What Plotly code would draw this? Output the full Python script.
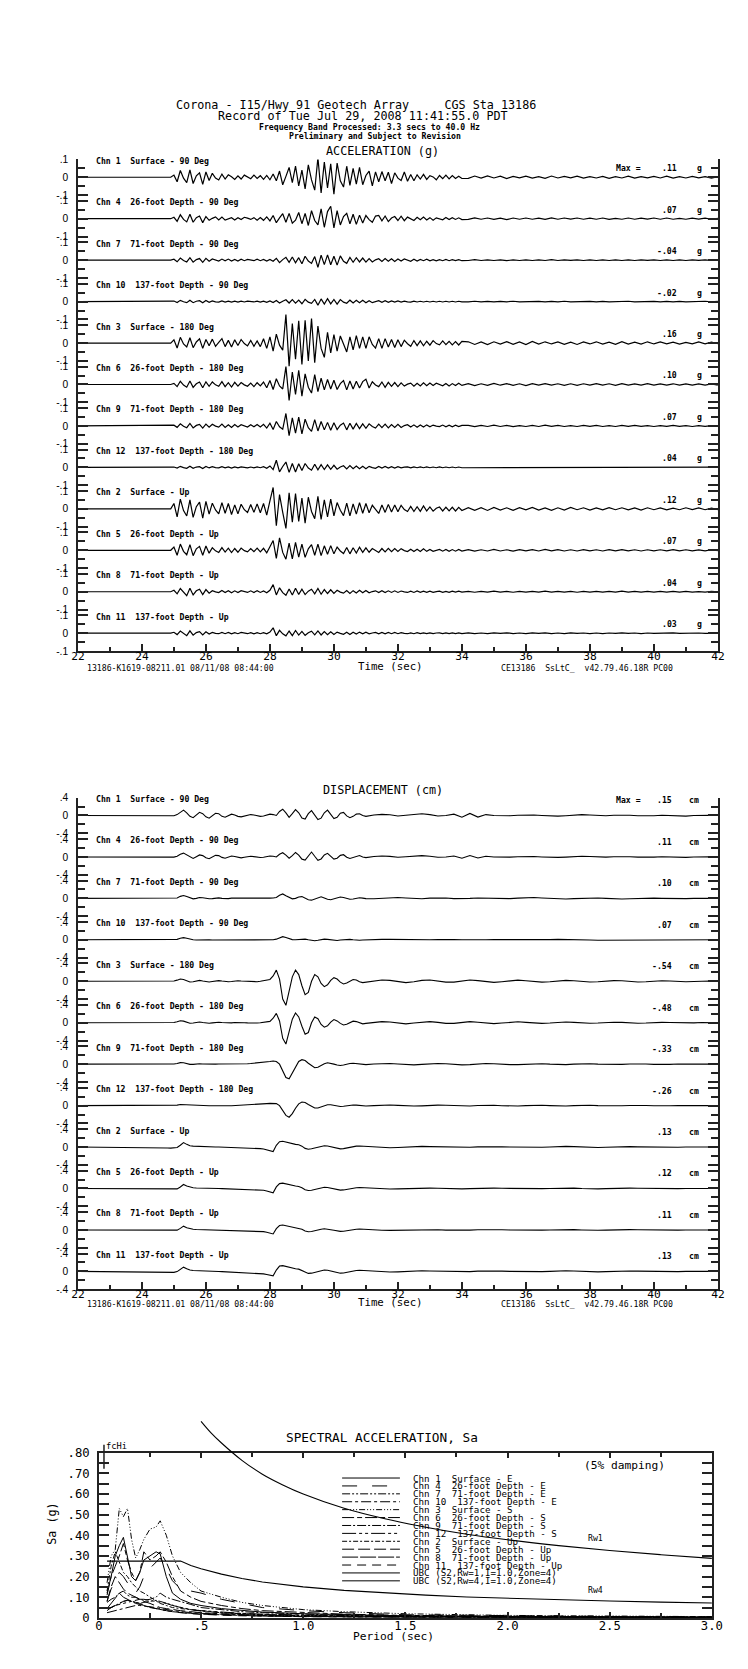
import plotly.graph_objects as go

W, H = 748, 1669
MONO = "DejaVu Sans Mono"
SANS = "Liberation Sans"

# The page is photographed with the browser's default 8px body margin and then
# fitted to 748x1669; positions below are in the target picture's pixels and are
# mapped back to paper fractions accordingly.
PAGE_PAD = 8
SX = W / (W + 2 * PAGE_PAD)
SY = H / (H + 2 * PAGE_PAD)


def fx(px):
    return (px / SX - PAGE_PAD) / W


def fy(py):
    return 1 - (py / SY - PAGE_PAD) / H


# ---------------- text / categories ----------------
ROW_LABELS = [
    "Chn 1  Surface - 90 Deg", "Chn 4  26-foot Depth - 90 Deg",
    "Chn 7  71-foot Depth - 90 Deg", "Chn 10  137-foot Depth - 90 Deg",
    "Chn 3  Surface - 180 Deg", "Chn 6  26-foot Depth - 180 Deg",
    "Chn 9  71-foot Depth - 180 Deg", "Chn 12  137-foot Depth - 180 Deg",
    "Chn 2  Surface - Up", "Chn 5  26-foot Depth - Up",
    "Chn 8  71-foot Depth - Up", "Chn 11  137-foot Depth - Up",
]
ACC_MAX = [".11", ".07", "-.04", "-.02", ".16", ".10", ".07", ".04", ".12", ".07", ".04", ".03"]
DISP_MAX = [".15", ".11", ".10", ".07", "-.54", "-.48", "-.33", "-.26", ".13", ".12", ".11", ".13"]

# ---------------- acceleration (milli-g) ----------------
ACC_TIME = [22.0] + [round(24.9 + 0.1 * i, 2) for i in range(92)] + [round(34.2 + 0.2 * i, 2) for i in range(40)]

ACC_CH1 = [0, 0,
           12, -25, 38, -5, -30, 42, -35, 8, 25, -40,
           30, -18, 22, -4, -15, 18, -10, 14, 3, -12,
           8, -10, 12, 2, -8, 12, -6, 9, -12, 10,
           -14, 18, -20, 35, -42, 5, 55, -30, 62, -48,
           40, -65, 70, -15, -72, 110, -88, 85, -60, 75,
           -95, 80, -20, -55, 62, -45, 50, -38, 55, -42,
           10, 35, -48, 30, -25, 32, -20, 28, -35, 25,
           -5, -18, 30, -22, 15, -20, 14, -10, 16, -12,
           9, 2, -14, 10, -8, 12, -9, 10, -7, 6,
           -7,
           -6, 7, -5, 8, -4, 6, -7, 5, -3, 6, -5, 4, -6, 7, -4, 5, -3, 6, -5, 4,
           -4, 5, -6, 3, -4, 6, -5, 4, -3, 5, -4, 6, -5, 3, -4, 5, -3, 4, -5, 3]
ACC_CH4 = [0, 0,
           8, -15, 22, -4, -18, 25, -20, 6, 15, -22,
           12, -9, 2, 10, -7, 9, -8, 1, 6, -7,
           6, -5, 8, 3, -4, 6, -8, 7, -9, 10,
           -12, 18, -22, 5, 28, -20, 30, -25, -8, 35,
           -28, 30, -38, 45, -10, -35, 55, -48, 40, 70,
           -52, 45, -35, 12, 30, -28, 25, -32, 20, -24,
           18, -5, -20, 15, 18, -12, 15, -16, 4, 12,
           -10, 14, -11, 9, -2, -10, 8, -6, 9, -7,
           6, -8, 5, -1, -6, 7, -5, 6, -4, 5,
           -5,
           -4, 5, -3, 4, -4, 3, -5, 4, -3, 4, -3, 3, -4, 5, -3, 4, -2, 4, -3, 3,
           -3, 4, -4, 2, -3, 4, -3, 3, -2, 4, -3, 4, -3, 2, -3, 3, -2, 3, -3, 2]
ACC_CH7 = [0, 0,
           5, -9, 12, -2, -10, 14, -11, 3, 9, -12,
           10, -6, 7, -1, -5, 6, -4, 6, -5, 4,
           -5, 5, -3, 4, 1, -3, 5, -3, 4, -5,
           4, -6, 10, -14, 3, 16, -12, 18, -15, 14,
           -20, 22, -5, -18, 20, -40, 28, -25, 30, -26,
           22, -28, 24, -6, -18, 15, -12, 14, -10, 12,
           -11, 9, -10, 2, 8, -7, 9, -6, 8, -7,
           6, -5, 7, -1, -6, 5, -5, 4, -3, 5,
           -4, 3, -4, 3, -3, 4, -3, 3, -2, 3,
           -3,
           -2, 3, -2, 2, -2, 2, -3, 2, -2, 2, -2, 2, -2, 3, -2, 2, -1, 2, -2, 2,
           -2, 2, -2, 1, -2, 2, -2, 2, -1, 2, -2, 2, -2, 1, -2, 2, -1, 2, -2, 1]
ACC_CH10 = [0, 0,
            3, -5, 7, -1, -6, 8, -6, 2, 5, -7,
            6, -4, 4, -1, -3, 4, -3, 3, -3, 3,
            -3, 3, -2, 3, 1, -2, 3, -3, 3, -4,
            4, -5, 6, -8, 2, 10, -8, 11, -9, 8,
            -12, 13, -3, -10, 12, -20, 15, -14, 16, -13,
            12, -14, 11, -3, -9, 8, -7, 8, -6, 7,
            -6, 5, -6, 1, 5, -4, 5, -4, 4, -3,
            4, -3, 3, -1, -3, 3, -2, 2, -2, 2,
            -2, 2, -2, 2, -2, 2, -2, 2, -2, 2,
            -1,
            -1, 2, -1, 1, -2, 1, -1, 2, -1, 1, -1, 1, -2, 1, -1, 2, -1, 1, -1, 1,
            -2, 1, -1, 1, -1, 2, -1, 1, -1, 1, -1, 1, -2, 1, -1, 1, -1, 2, -1, 1]
ACC_CH3 = [0, 0,
           18, -28, 32, -5, -22, 30, -26, 6, 24, -30,
           20, -15, 22, -18, 4, 25, -20, 15, -22, 18,
           -14, 20, -3, -16, 14, -18, 12, -20, 24, -30,
           35, -45, 50, -12, -40, 160, -130, 110, -90, 125,
           -120, 127, -100, 137, -110, 95, -30, -80, 60, -55,
           48, -45, 40, -10, -50, 35, -38, 42, -30, 35,
           -30, 35, -8, -28, 25, -30, 25, -22, 20, -25,
           18, -20, 16, -4, -18, 14, -14, 12, -15, 10,
           -12, 14, -3, -10, 12, -9, 10, -10, 8, -11,
           9,
           7, -8, 6, -9, 7, -6, 8, -7, 6, -8, 9, -6, 7, -5, 6, -7, 5, -8, 6, -5,
           7, -6, 5, -7, 8, -6, 5, -6, 7, -5, 6, -4, 5, -6, 4, -5, 6, -4, 5, -4]
ACC_CH6 = [0, 0,
           6, -12, 18, -3, -15, 20, -16, 4, 14, -18,
           15, -10, 14, -2, -10, 16, -12, 10, -14, 12,
           -9, 11, -2, -10, 8, -12, 10, -8, 14, -18,
           22, -28, 32, -8, -25, 100, -90, 70, -55, 80,
           -65, 60, -15, -48, 55, -40, 35, -30, 28, -25,
           24, -28, 5, 22, -30, 20, -25, 18, -20, 16,
           30, -20, 15, -3, -12, 14, -16, 12, -10, 11,
           -12, 9, -9, 2, 8, -10, 7, -8, 9, -7,
           8, -6, 7, -1, -7, 6, -8, 5, -6, 7,
           -5,
           5, -6, 4, -5, 6, -4, 5, -5, 4, -6, 5, -4, 5, -4, 4, -5, 4, -5, 4, -4,
           5, -4, 4, -5, 5, -4, 3, -4, 5, -3, 4, -3, 4, -4, 3, -3, 4, -3, 3, -3]
ACC_CH9 = [0, 0,
           4, -8, 12, -2, -10, 14, -11, 3, 9, -12,
           10, -7, 9, -1, -7, 10, -8, 7, -9, 8,
           -6, 7, -1, -6, 7, -5, 8, -6, 9, -12,
           15, -20, 25, -5, -18, 70, -55, 45, -40, 50,
           -45, 38, -10, -30, 35, -28, 25, -22, 20, -24,
           18, -20, 4, 16, -22, 15, -18, 14, -15, 12,
           -13, 12, -3, -12, 10, -9, 10, -11, 8, -8,
           9, -9, 2, 7, -6, 6, -7, 5, -6, 6,
           -5, 5, -1, -4, 5, -5, 4, -5, 4, -4,
           3,
           3, -4, 3, -3, 4, -3, 3, -4, 2, -3, 3, -3, 4, -2, 3, -3, 2, -3, 3, -2,
           3, -3, 2, -3, 3, -2, 3, -2, 2, -3, 2, -2, 3, -2, 2, -3, 2, -2, 2, -2]
ACC_CH12 = [0, 0,
            2, -4, 6, -1, -5, 7, -5, 2, 4, -6,
            5, -3, 4, -1, -3, 4, -3, 3, -4, 3,
            -3, 3, -1, -3, 2, -3, 3, -2, 4, -5,
            8, -12, 40, -25, 5, 30, -28, 22, -26, 20,
            -18, 22, -4, -16, 18, -14, 15, -12, 14, -11,
            12, -10, 2, 9, -8, 10, -7, 8, -7, 6,
            -7, 6, -1, -5, 5, -4, 5, -4, 4, -4,
            4, -3, 1, 3, -3, 3, -2, 3, -2, 3,
            -2, 2, -2, 3, -2, 2, -2, 2, -2, 2,
            -2,
            -2, 2, -1, 2, -2, 1, -2, 2, -1, 2, -1, 2, -2, 1, -1, 2, -2, 1, -1, 2,
            -1, 1, -2, 1, -1, 2, -1, 1, -1, 2, -1, 1, -1, 2, -1, 1, -1, 1, -2, 1]
ACC_CH2 = [0, 0,
           30, -45, 55, -10, -40, 50, -48, 12, 38, -52,
           42, -30, 32, -6, -28, 35, -25, 30, -32, 22,
           -28, 26, -5, -20, 24, -20, 28, -22, 30, -35,
           45, 120, -95, 80, -20, -110, 90, -75, 85, -70,
           60, -80, 65, -15, -55, 70, -60, 50, -45, 55,
           -40, 35, -8, -38, 32, -40, 28, -30, 35, -25,
           30, -22, 20, -5, -26, 22, -20, 25, -18, 22,
           -16, 20, -4, -15, 14, -15, 12, -14, 16, -12,
           11, -13, 3, 10, -12, 9, -11, 9, -12, 8,
           -9,
           7, -8, 6, -9, 8, -7, 6, -8, 7, -6, 8, -7, 5, -8, 6, -7, 8, -5, 6, -7,
           5, -6, 7, -5, 6, -6, 5, -7, 6, -5, 5, -6, 4, -5, 6, -4, 5, -5, 4, -4]
ACC_CH5 = [0, 0,
           18, -28, 35, -6, -25, 32, -30, 8, 22, -28,
           24, -16, 14, -3, -12, 15, -10, 12, -13, 10,
           -11, 12, -2, -9, 10, -8, 12, -9, 11, -14,
           20, 55, -45, 70, -12, -50, 40, -48, 45, -38,
           35, -40, 8, 32, -28, 35, -30, 25, -22, 26,
           -20, 18, -4, -18, 16, -20, 14, -15, 17, -12,
           14, -11, 10, -2, -12, 10, -9, 11, -8, 10,
           -7, 9, -2, -7, 6, -7, 6, -7, 8, -6,
           5, -6, 1, 5, -5, 5, -6, 4, -5, 5,
           -4,
           4, -5, 3, -4, 5, -4, 3, -5, 4, -3, 4, -4, 5, -3, 4, -4, 3, -4, 4, -3,
           3, -4, 4, -3, 4, -3, 3, -4, 3, -3, 3, -3, 4, -3, 3, -3, 2, -3, 3, -2]
ACC_CH8 = [0, 0,
           8, -12, 18, -4, -22, 20, -18, 5, 14, -16,
           12, -8, 6, -1, -5, 7, -5, 6, -6, 5,
           -5, 6, -1, -4, 5, -4, 6, -4, 4, -6,
           8, 40, -18, 22, -5, -20, 15, -18, 20, -15,
           14, -16, 3, 14, -12, 18, -14, 12, -10, 11,
           -9, 8, -2, -8, 7, -9, 6, -7, 8, -6,
           7, -6, 1, 5, -5, 6, -4, 5, -4, 5,
           -4, 4, -1, -4, 3, -4, 4, -3, 3, -3,
           3, -3, 1, 3, -3, 2, -3, 3, -2, 3,
           -2,
           2, -3, 2, -2, 3, -2, 2, -3, 2, -2, 2, -2, 3, -2, 2, -2, 2, -3, 2, -2,
           2, -2, 2, -2, 3, -2, 2, -2, 2, -2, 2, -2, 2, -2, 2, -2, 1, -2, 2, -1]
ACC_CH11 = [0, 0,
            5, -8, 12, -3, -14, 13, -11, 3, 9, -10,
            8, -5, 4, -1, -3, 4, -3, 4, -4, 3,
            -3, 4, -1, -3, 3, -4, 3, -3, 3, -4,
            6, 30, -14, 16, -4, -15, 12, -14, 15, -11,
            10, -12, 2, 11, -9, 13, -10, 9, -8, 8,
            -7, 6, -1, -6, 5, -7, 5, -5, 6, -4,
            5, -4, 1, 4, -4, 4, -4, 4, -3, 4,
            -3, 3, -1, -3, 2, -3, 3, -2, 2, -2,
            2, -2, 1, 2, -2, 2, -2, 2, -2, 2,
            -2,
            2, -2, 1, -2, 2, -1, 2, -2, 1, -2, 2, -1, 2, -2, 1, -2, 2, -1, 1, -2,
            1, -2, 1, -1, 2, -1, 1, -2, 1, -1, 1, -1, 2, -1, 1, -1, 1, -1, 1, -1]

ACC_ROWS = [ACC_CH1, ACC_CH4, ACC_CH7, ACC_CH10, ACC_CH3, ACC_CH6,
            ACC_CH9, ACC_CH12, ACC_CH2, ACC_CH5, ACC_CH8, ACC_CH11]

# ---------------- displacement (1/1000 cm) ----------------
DISP_TIME = [22.0] + [round(24.0 + 0.1 * i, 2) for i in range(71)] + [round(31.25 + 0.25 * i, 2) for i in range(44)]

DISP_CH1 = [0,
            0, 0, -2, -3, -5, -8, -10, -12, -12, -10,
            -5, 20, 80, 120, 60, -20, -50, 10, 70, 40,
            -30, -60, -10, 50, 40, -20, -40, 0, 30, 10,
            -20, -30, -10, 10, 20, 10, -10, -20, -10, 10,
            30, 20, 0, 90, 140, 60, -40, 40, 130, 60,
            -60, -80, 40, 110, 20, -90, -60, 60, 120, 30,
            -70, -40, 50, 70, -10, -50, -20, 30, 40, 0,
            -20,
            10, 25, 15, -10, 5, 25, 40, 20, -10, 0, 30, -40, 45, -35, 20, 0, -10, -5, 5, 15,
            10, 0, -10, -15, -5, 10, 20, 10, 0, -5, 5, 10, 5, -5, -10, -5, 5, 0, -20, -15,
            0, 10, 5, 0]
DISP_CH4 = [0,
            0, 0, -1, -2, -4, -6, -8, -9, -9, -8,
            -4, 15, 60, 85, 45, -10, -35, 5, 45, 30,
            -20, -40, -5, 35, 30, -10, -28, 0, 20, 8,
            -12, -20, -8, 6, 14, 6, -6, -14, -8, 6,
            20, 15, 0, 60, 95, 40, -30, 30, 100, 40,
            -50, -70, 30, 110, 15, -75, -45, 45, 80, 20,
            -50, -30, 35, 50, -5, -35, -15, 20, 30, 0,
            -15,
            8, 20, 12, -8, 4, 18, 30, 15, -8, 0, 22, -30, 32, -25, 15, 0, -8, -4, 4, 10,
            8, 0, -8, -10, -4, 8, 15, 8, 0, -4, 4, 8, 4, -4, -8, -4, 4, 0, -15, -10,
            0, 8, 4, 0]
DISP_CH7 = [0,
            0, 0, -1, -2, -3, -4, -5, -6, -6, -5,
            -2, 10, 45, 65, 40, 10, -10, 0, 20, 15,
            0, -10, -5, 10, 12, 0, -8, -5, 5, 5,
            -2, -8, -10, -6, 0, 4, 0, -6, -8, -4,
            5, 10, 20, 70, 100, 60, 20, -10, 0, 30,
            40, 10, -30, -40, -10, 20, 35, 10, -20, -30,
            -10, 15, 30, 20, -5, -20, -15, 5, 15, 5,
            -5,
            -10, 0, 15, 20, 10, -5, -10, 5, 15, 10, -5, -10, 0, 10, 5, -5, -10, -5, 5, 15,
            20, 10, 0, -10, -15, -5, 5, 10, 10, 0, -10, -15, -10, 0, 10, 5, 0, -5, -10, -5,
            0, 5, 5, 0]
DISP_CH10 = [0,
             0, 0, -1, -1, -2, -3, -4, -4, -4, -3,
             0, 10, 35, 50, 35, 15, 0, -5, 0, 5,
             5, 0, -5, -5, 0, 5, 5, 0, -5, -5,
             -5, -8, -10, -10, -8, -5, -5, -8, -10, -8,
             -5, 0, 15, 50, 70, 50, 25, 5, 0, 10,
             20, 15, 0, -15, -20, -10, 5, 15, 10, 0,
             -10, -15, -5, 5, 10, 10, 0, -10, -10, -5,
             0,
             5, 10, 10, 5, 0, -5, -5, 0, 5, 10, 5, 0, -5, -5, 0, 5, 5, 0, -5, -10,
             -5, 0, 5, 10, 10, 5, 0, -5, -10, -10, -5, 0, 5, 5, 0, -5, -5, 0, 5, 5,
             0, -5, 0, 0]
DISP_CH3 = [0,
            0, 0, -2, -3, -5, -6, -8, -8, -6, -3,
            5, 25, 50, 40, 10, -15, -10, 10, 20, 5,
            -10, -15, -5, 10, 15, 5, -5, -10, -5, 5,
            10, 5, 0, -5, -10, -15, -10, 0, 10, 20,
            40, 120, 250, 50, -400, -540, -250, 100, 250, 150,
            -100, -300, -250, 0, 150, 100, -50, -120, -80, 20,
            80, 50, -20, -60, -40, 10, 40, 30, -10, -30,
            -20,
            10, 30, 20, -10, -30, -10, 20, 30, 10, -20, -20, 10, 30, 15, -10, -25, -10, 15, 25, 10,
            -10, -20, -10, 10, 20, 10, -5, -15, -10, 5, 15, 10, -5, -15, -10, 5, 10, 5, -5, -10,
            -5, 5, 5, 0]
DISP_CH6 = [0,
            0, 0, -2, -3, -4, -5, -7, -7, -5, -3,
            4, 20, 45, 35, 8, -12, -8, 8, 15, 4,
            -8, -12, -4, 8, 12, 4, -4, -8, -4, 4,
            8, 4, 0, -4, -8, -12, -8, 0, 8, 15,
            30, 100, 210, 40, -350, -480, -230, 80, 220, 130,
            -80, -260, -220, 0, 130, 90, -40, -100, -70, 15,
            70, 40, -15, -50, -35, 8, 35, 25, -8, -25,
            -15,
            8, 25, 15, -8, -25, -8, 15, 25, 8, -15, -15, 8, 25, 12, -8, -20, -8, 12, 20, 8,
            -8, -15, -8, 8, 15, 8, -4, -12, -8, 4, 12, 8, -4, -12, -8, 4, 8, 4, -4, -8,
            -4, 4, 4, 0]
DISP_CH9 = [0,
            0, 0, -1, -2, -3, -4, -5, -5, -4, -2,
            3, 15, 35, 30, 10, -5, -5, 5, 10, 5,
            0, -5, -5, 0, 5, 5, 0, -5, -5, 0,
            5, 5, 10, 10, 15, 20, 25, 30, 40, 50,
            60, 70, 60, 0, -150, -300, -330, -200, -50, 60,
            100, 80, 20, -40, -80, -70, -30, 10, 30, 20,
            0, -20, -30, -20, 0, 15, 20, 10, -5, -15,
            -10,
            5, 15, 15, 5, -10, -15, -5, 10, 15, 10, -5, -15, -10, 5, 15, 10, -5, -10, -10, 0,
            10, 10, 0, -10, -10, 0, 10, 10, 0, -5, -10, -5, 5, 10, 5, -5, -10, -5, 5, 5,
            0, -5, 0, 0]
DISP_CH12 = [0,
             0, 0, -1, -1, -2, -3, -4, -4, -3, -2,
             2, 10, 25, 22, 10, 0, -3, 0, 5, 3,
             0, -3, -3, 0, 3, 3, 0, -3, -3, 0,
             3, 5, 8, 10, 15, 20, 25, 30, 38, 45,
             50, 55, 45, 0, -110, -220, -260, -180, -60, 40,
             80, 70, 25, -20, -55, -55, -30, 0, 20, 20,
             5, -10, -20, -15, 0, 10, 15, 10, 0, -10,
             -8,
             0, 10, 12, 5, -5, -10, -5, 5, 10, 8, -2, -10, -8, 2, 10, 8, -2, -8, -8, 0,
             8, 8, 0, -8, -8, 0, 8, 8, 0, -4, -8, -4, 4, 8, 4, -4, -8, -4, 4, 4,
             0, -4, 0, 0]
DISP_CH2 = [0,
            -5, -8, -10, -12, -14, -16, -18, -20, -22, -25,
            -25, -10, 40, 100, 60, 30, 20, 15, 10, 10,
            8, 5, 5, 2, 0, -2, -5, -5, -8, -10,
            -12, -15, -18, -20, -25, -28, -30, -35, -45, -60,
            -80, -100, 40, 120, 130, 110, 90, 70, 60, 50,
            20, -30, -50, -40, -20, 0, 20, 30, 25, 10,
            -10, -30, -40, -35, -20, 0, 10, 20, 25, 20,
            10,
            0, -10, -15, -10, 0, 10, 15, 10, 5, -5, -10, -10, -5, 5, 10, 10, 5, 0, -5, -10,
            -10, -5, 0, 10, 15, 10, 0, -10, -10, -5, 5, 10, 10, 5, 0, -5, -10, -10, -5, 0,
            5, 5, 0, 0]
DISP_CH5 = [0,
            -4, -6, -8, -10, -12, -14, -16, -18, -20, -22,
            -22, -8, 35, 90, 55, 28, 18, 12, 8, 8,
            6, 4, 4, 2, 0, -2, -4, -5, -7, -9,
            -10, -13, -16, -18, -22, -25, -28, -32, -40, -55,
            -75, -95, 35, 110, 120, 100, 80, 65, 55, 45,
            18, -28, -45, -38, -18, 0, 18, 28, 22, 8,
            -8, -28, -36, -32, -18, 0, 8, 18, 22, 18,
            8,
            0, -8, -12, -8, 0, 8, 12, 8, 4, -4, -8, -8, -4, 4, 8, 8, 4, 0, -4, -8,
            -8, -4, 0, 8, 12, 8, 0, -8, -8, -4, 4, 8, 8, 4, 0, -4, -8, -8, -4, 0,
            4, 4, 0, 0]
DISP_CH8 = [0,
            -4, -6, -8, -10, -11, -13, -15, -17, -19, -20,
            -20, -5, 35, 85, 50, 25, 15, 10, 8, 6,
            5, 3, 2, 0, -2, -4, -5, -6, -8, -9,
            -10, -12, -15, -17, -20, -23, -26, -30, -38, -50,
            -70, -90, 30, 100, 110, 95, 75, 60, 50, 40,
            15, -25, -40, -35, -15, 0, 15, 25, 20, 5,
            -8, -25, -32, -28, -15, 0, 8, 15, 20, 15,
            5,
            0, -8, -10, -8, 0, 8, 10, 8, 4, -4, -8, -8, -4, 4, 8, 8, 4, 0, -4, -8,
            -8, -4, 0, 8, 10, 8, 0, -8, -8, -4, 4, 8, 8, 4, 0, -4, -8, -8, -4, 0,
            4, 4, 0, 0]
DISP_CH11 = [0,
             -4, -6, -8, -10, -12, -14, -16, -18, -20, -22,
             -22, -5, 45, 95, 60, 30, 20, 15, 10, 8,
             5, 3, 2, 0, -3, -5, -8, -10, -12, -15,
             -18, -20, -24, -28, -32, -36, -40, -45, -55, -70,
             -90, -100, 30, 120, 130, 110, 90, 75, 60, 50,
             20, -25, -45, -40, -20, 0, 20, 30, 25, 10,
             -10, -30, -40, -35, -20, 0, 10, 20, 25, 20,
             10,
             0, -10, -15, -10, 0, 10, 15, 10, 5, -5, -10, -10, -5, 5, 10, 10, 5, 0, -5, -10,
             -10, -5, 0, 10, 15, 10, 0, -10, -10, -5, 5, 10, 10, 5, 0, -5, -10, -10, -5, 0,
             5, 5, 0, 0]

DISP_ROWS = [DISP_CH1, DISP_CH4, DISP_CH7, DISP_CH10, DISP_CH3, DISP_CH6,
             DISP_CH9, DISP_CH12, DISP_CH2, DISP_CH5, DISP_CH8, DISP_CH11]

# ---------------- spectral acceleration (g) ----------------
SA_PERIOD = [0.04, 0.06, 0.08, 0.1, 0.12, 0.14, 0.16, 0.18, 0.2, 0.22, 0.25, 0.28, 0.3, 0.33,
             0.36, 0.4, 0.45, 0.5, 0.6, 0.7, 0.8, 1.0, 1.2, 1.5, 2.0, 2.5, 3.0]
SA_CH1 = [0.12, 0.2, 0.3, 0.35, 0.39, 0.3, 0.2, 0.18, 0.22, 0.28, 0.3, 0.32, 0.31, 0.2,
          0.12, 0.09, 0.07, 0.06, 0.045, 0.035, 0.028, 0.02, 0.015, 0.01, 0.007, 0.005, 0.004]
SA_CH4 = [0.08, 0.14, 0.18, 0.22, 0.2, 0.17, 0.13, 0.12, 0.15, 0.2, 0.24, 0.27, 0.29, 0.24,
          0.18, 0.14, 0.13, 0.12, 0.09, 0.07, 0.05, 0.035, 0.025, 0.015, 0.01, 0.007, 0.005]
SA_CH7 = [0.045, 0.05, 0.06, 0.07, 0.08, 0.085, 0.08, 0.075, 0.07, 0.075, 0.08, 0.085, 0.08, 0.07,
          0.06, 0.05, 0.04, 0.033, 0.025, 0.02, 0.016, 0.012, 0.009, 0.006, 0.004, 0.003, 0.002]
SA_CH10 = [0.025, 0.03, 0.035, 0.04, 0.045, 0.05, 0.055, 0.06, 0.06, 0.058, 0.055, 0.05, 0.045, 0.04,
           0.035, 0.03, 0.026, 0.022, 0.018, 0.014, 0.011, 0.008, 0.006, 0.004, 0.003, 0.002, 0.002]
SA_CH3 = [0.17, 0.3, 0.33, 0.53, 0.49, 0.53, 0.38, 0.29, 0.33, 0.38, 0.43, 0.44, 0.47, 0.40,
          0.30, 0.22, 0.17, 0.13, 0.10, 0.075, 0.06, 0.04, 0.03, 0.02, 0.012, 0.008, 0.006]
SA_CH6 = [0.11, 0.2, 0.25, 0.3, 0.36, 0.28, 0.22, 0.18, 0.22, 0.32, 0.28, 0.3, 0.32, 0.27,
          0.2, 0.13, 0.1, 0.08, 0.06, 0.045, 0.035, 0.025, 0.018, 0.012, 0.008, 0.005, 0.004]
SA_CH9 = [0.075, 0.09, 0.1, 0.12, 0.13, 0.11, 0.1, 0.1, 0.09, 0.085, 0.09, 0.1, 0.12, 0.1,
          0.09, 0.08, 0.065, 0.05, 0.04, 0.03, 0.025, 0.018, 0.012, 0.008, 0.005, 0.004, 0.003]
SA_CH12 = [0.045, 0.05, 0.06, 0.065, 0.07, 0.075, 0.08, 0.085, 0.09, 0.09, 0.085, 0.08, 0.075, 0.07,
           0.06, 0.05, 0.04, 0.035, 0.028, 0.022, 0.018, 0.013, 0.01, 0.007, 0.005, 0.003, 0.002]
SA_CH2 = [0.13, 0.25, 0.32, 0.27, 0.22, 0.2, 0.17, 0.15, 0.13, 0.12, 0.1, 0.08, 0.07, 0.06,
          0.05, 0.045, 0.04, 0.035, 0.025, 0.02, 0.015, 0.01, 0.008, 0.005, 0.003, 0.002, 0.002]
SA_CH5 = [0.08, 0.15, 0.2, 0.17, 0.14, 0.12, 0.11, 0.1, 0.09, 0.08, 0.07, 0.06, 0.05, 0.045,
          0.04, 0.035, 0.03, 0.025, 0.02, 0.015, 0.012, 0.008, 0.006, 0.004, 0.003, 0.002, 0.001]
SA_CH8 = [0.045, 0.07, 0.1, 0.12, 0.1, 0.09, 0.08, 0.075, 0.07, 0.06, 0.05, 0.045, 0.04, 0.035,
          0.03, 0.025, 0.022, 0.018, 0.014, 0.011, 0.009, 0.006, 0.004, 0.003, 0.002, 0.001, 0.001]
SA_CH11 = [0.035, 0.05, 0.06, 0.07, 0.08, 0.085, 0.08, 0.07, 0.065, 0.06, 0.05, 0.045, 0.04, 0.035,
           0.03, 0.025, 0.02, 0.017, 0.013, 0.01, 0.008, 0.006, 0.004, 0.003, 0.002, 0.001, 0.001]

UBC_RW1_PERIOD = [0.5, 0.55, 0.6, 0.7, 0.8, 0.9, 1.0, 1.2, 1.4, 1.6, 1.8, 2.0, 2.25, 2.5, 2.75, 3.0]
UBC_RW1 = [0.952, 0.895, 0.847, 0.763, 0.696, 0.644, 0.600, 0.531, 0.480, 0.439, 0.405, 0.378,
           0.350, 0.326, 0.306, 0.288]
UBC_RW4_PERIOD = [0.04, 0.4, 0.45, 0.5, 0.6, 0.7, 0.8, 0.9, 1.0, 1.2, 1.4, 1.6, 1.8, 2.0, 2.25,
                  2.5, 2.75, 3.0]
UBC_RW4 = [0.275, 0.275, 0.254, 0.238, 0.212, 0.191, 0.174, 0.161, 0.150, 0.133, 0.120, 0.110,
           0.101, 0.0945, 0.0875, 0.0815, 0.0765, 0.072]
FC_HI_PERIOD = 0.025

LEGEND_NAMES = [
    "Chn 1  Surface - E", "Chn 4  26-foot Depth - E", "Chn 7  71-foot Depth - E",
    "Chn 10  137-foot Depth - E", "Chn 3  Surface - S", "Chn 6  26-foot Depth - S",
    "Chn 9  71-foot Depth - S", "Chn 12  137-foot Depth - S", "Chn 2  Surface - Up",
    "Chn 5  26-foot Depth - Up", "Chn 8  71-foot Depth - Up", "Chn 11  137-foot Depth - Up",
    "UBC (S2,Rw=1,I=1.0,Zone=4)", "UBC (S2,Rw=4,I=1.0,Zone=4)",
]
SA_SERIES = [SA_CH1, SA_CH4, SA_CH7, SA_CH10, SA_CH3, SA_CH6, SA_CH9, SA_CH12,
             SA_CH2, SA_CH5, SA_CH8, SA_CH11]
DASHES = ["solid", "longdash", "8px,2px,2px,2px,2px,2px", "10px,3px,3px,3px",
          "6px,2px,1px,2px,1px,2px,1px,2px", "12px,3px,5px,3px", "9px,2px,2px,2px",
          "14px,3px,3px,3px,3px,3px", "5px,2px,2px,2px", "12px,4px", "16px,2px", "9px,6px",
          "solid", "solid"]

for arr in ACC_ROWS:
    assert len(arr) == len(ACC_TIME), (len(arr), len(ACC_TIME))
for arr in DISP_ROWS:
    assert len(arr) == len(DISP_TIME), (len(arr), len(DISP_TIME))

# ---------------- geometry (target pixels) ----------------
ROW_PITCH_PX = 41.4
ROW_SPAN_PX = 35.6
ACC_ZERO0 = 178.0
DISP_ZERO0 = 815.5
ACC_HALF = 0.1
DISP_HALF = 0.4
ACC_PITCH = 2 * ACC_HALF * ROW_PITCH_PX / ROW_SPAN_PX
DISP_PITCH = 2 * DISP_HALF * ROW_PITCH_PX / ROW_SPAN_PX
HALF_PX = ROW_SPAN_PX / 2
AXC = "#222222"
EPS = 1e-6
FS = 1 / SX   # font compensation for the fitted photograph

fig = go.Figure()

for k, vals in enumerate(ACC_ROWS):
    fig.add_trace(go.Scatter(x=ACC_TIME, y=[v / 1000.0 - k * ACC_PITCH for v in vals], mode="lines",
                             line=dict(color="black", width=1.2), xaxis="x", yaxis="y",
                             hoverinfo="skip", showlegend=False))
for k, vals in enumerate(DISP_ROWS):
    fig.add_trace(go.Scatter(x=DISP_TIME, y=[v / 1000.0 - k * DISP_PITCH for v in vals], mode="lines",
                             line=dict(color="black", width=1.1), xaxis="x2", yaxis="y2",
                             hoverinfo="skip", showlegend=False))
for vals, dash in zip(SA_SERIES, DASHES[:12]):
    fig.add_trace(go.Scatter(x=SA_PERIOD, y=vals, mode="lines", line=dict(color="black", width=1, dash=dash),
                             xaxis="x3", yaxis="y3", hoverinfo="skip", showlegend=False))
fig.add_trace(go.Scatter(x=UBC_RW4_PERIOD, y=UBC_RW4, mode="lines", line=dict(color="black", width=1.1),
                         xaxis="x3", yaxis="y3", hoverinfo="skip", showlegend=False))
fig.add_trace(go.Scatter(x=UBC_RW1_PERIOD, y=UBC_RW1, mode="lines", line=dict(color="black", width=1.1, shape="spline"),
                         xaxis="x4", yaxis="y4", hoverinfo="skip", showlegend=False))


def stack_ticks(n, half, pitch, top, bot):
    vals, text, minor = [], [], []
    for k in range(n):
        c = -k * pitch
        vals += [c + half, c, c - half]
        text += [top, "0", bot]
        minor += [c + half / 2, c - half / 2]
    return vals, text, minor


acc_vals, acc_text, acc_minor = stack_ticks(12, ACC_HALF, ACC_PITCH, ".1", "-.1")
disp_vals, disp_text, disp_minor = stack_ticks(12, DISP_HALF, DISP_PITCH, ".4", "-.4")

line_common = dict(showline=True, linecolor=AXC, linewidth=1.5, showgrid=False, zeroline=False,
                   tickcolor=AXC, tickwidth=1.5)


def stack_y(dom, vals, text, minor, half, pitch, anchor):
    return dict(domain=dom, range=[-11 * pitch - half - EPS, half + EPS], anchor=anchor, mirror="ticks",
                ticks="inside", tickmode="array", tickvals=vals, ticktext=text, ticklen=10,
                minor=dict(tickmode="array", tickvals=minor, ticks="inside", ticklen=7,
                           tickwidth=1.5, tickcolor=AXC),
                tickfont=dict(family=SANS, size=10 * FS, color="black"), ticklabelstandoff=6,
                **line_common)


def time_x(dom, anchor):
    return dict(domain=dom, range=[22, 42], anchor=anchor, ticks="inside", tickmode="linear",
                tick0=22, dtick=2, ticklen=7,
                minor=dict(dtick=1, tick0=22, ticks="inside", ticklen=4, tickwidth=1.5, tickcolor=AXC),
                tickfont=dict(family=MONO, size=11 * FS, color="black"), ticklabelstandoff=-6,
                **line_common)


acc_bot = ACC_ZERO0 + 11 * ROW_PITCH_PX + HALF_PX
disp_bot = DISP_ZERO0 + 11 * ROW_PITCH_PX + HALF_PX

SA_LEFT, SA_RIGHT, SA_TOP, SA_BOT = 100, 715, 1452, 1617
SA_OVER_TOP = 1410

fig.update_layout(
    width=W, height=H, margin=dict(l=0, r=0, t=0, b=0),
    paper_bgcolor="white", plot_bgcolor="rgba(0,0,0,0)", showlegend=False,
    xaxis=time_x([fx(79), fx(721)], "y"),
    yaxis=stack_y([fy(acc_bot), fy(ACC_ZERO0 - HALF_PX)], acc_vals, acc_text, acc_minor, ACC_HALF, ACC_PITCH, "x"),
    xaxis2=time_x([fx(79), fx(721)], "y2"),
    yaxis2=stack_y([fy(disp_bot), fy(DISP_ZERO0 - HALF_PX)], disp_vals, disp_text, disp_minor, DISP_HALF, DISP_PITCH, "x2"),
    xaxis3=dict(domain=[fx(SA_LEFT), fx(SA_RIGHT)], range=[0, 3], anchor="y3", mirror="ticks", ticks="inside",
                tickmode="array", tickvals=[0, 0.5, 1, 1.5, 2, 2.5, 3],
                ticktext=["0", ".5", "1.0", "1.5", "2.0", "2.5", "3.0"], ticklen=6,
                minor=dict(tickmode="array", tickvals=[0.25, 0.75, 1.25, 1.75, 2.25, 2.75], ticks="inside",
                           ticklen=5, tickwidth=1.5, tickcolor=AXC),
                tickfont=dict(family=MONO, size=12 * FS, color="black"), ticklabelstandoff=-4, **line_common),
    yaxis3=dict(domain=[fy(SA_BOT), fy(SA_TOP)], range=[0, 0.8], anchor="x3", mirror="ticks", ticks="inside",
                tickmode="array", tickvals=[0, 0.1, 0.2, 0.3, 0.4, 0.5, 0.6, 0.7, 0.8],
                ticktext=["0", ".10", ".20", ".30", ".40", ".50", ".60", ".70", ".80"], ticklen=10,
                minor=dict(tickmode="array", tickvals=[0.05, 0.15, 0.25, 0.35, 0.45, 0.55, 0.65, 0.75],
                           ticks="inside", ticklen=10, tickwidth=1.5, tickcolor=AXC),
                tickfont=dict(family=MONO, size=12 * FS, color="black"), ticklabelstandoff=5, **line_common),
    xaxis4=dict(domain=[fx(SA_LEFT), fx(SA_RIGHT)], range=[0, 3], anchor="y4", visible=False),
    yaxis4=dict(domain=[fy(SA_BOT), fy(SA_OVER_TOP)],
                range=[0, 0.8 * (SA_BOT - SA_OVER_TOP) / (SA_BOT - SA_TOP)], anchor="x4", visible=False),
)

ann = []


def add_text(text, x, y, size, anchor="center", family=MONO, bold=False, angle=0):
    t = text.replace(" ", "\u00a0")
    if bold:
        t = "<b>" + t + "</b>"
    ann.append(dict(text=t, x=fx(x), y=fy(y), xref="paper", yref="paper", xanchor=anchor, yanchor="middle",
                    showarrow=False, textangle=angle, font=dict(family=family, size=size * FS, color="black")))


# Header
add_text("Corona - I15/Hwy 91 Geotech Array     CGS Sta 13186", 358, 106, 11.5)
add_text("Record of Tue Jul 29, 2008 11:41:55.0 PDT", 365, 117, 11.5)
add_text("Frequency Band Processed: 3.3 secs to 40.0 Hz", 371, 127.5, 8, bold=True)
add_text("Preliminary and Subject to Revision", 377, 136.5, 8, bold=True)
add_text("ACCELERATION (g)", 385, 151.5, 11.5)
add_text("DISPLACEMENT (cm)", 385, 790, 11.5)

for k in range(12):
    za = ACC_ZERO0 + k * ROW_PITCH_PX
    zd = DISP_ZERO0 + k * ROW_PITCH_PX
    add_text(ROW_LABELS[k], 95, za - 16.5, 8, anchor="left", bold=True)
    add_text(ROW_LABELS[k], 95, zd - 16.5, 8, anchor="left", bold=True)
    add_text(ACC_MAX[k], 682, za - 9, 8, anchor="right", bold=True)
    add_text("g", 698, za - 9, 8, anchor="left", bold=True)
    add_text(DISP_MAX[k], 677, zd - 15, 8, anchor="right", bold=True)
    add_text("cm", 690, zd - 15, 8, anchor="left", bold=True)
    if k == 0:
        add_text("Max =", 646, za - 9, 8, anchor="right", bold=True)
        add_text("Max =", 646, zd - 15, 8, anchor="right", bold=True)

# Footers
for yt, yf in ((667, 668.5), (1302, 1303.5)):
    add_text("Time (sec)", 393, yt, 10.5)
    add_text("13186-K1619-08211.01 08/11/08 08:44:00", 86, yf, 8, anchor="left")
    add_text("CE13186  SsLtC_  v42.79.46.18R PC00", 501, yf, 8, anchor="left")

# Spectral panel text
add_text("SPECTRAL ACCELERATION, Sa", 384, 1437, 12.5)
add_text("(5% damping)", 627, 1465, 11)
add_text("Sa (g)", 53, 1523, 11.5, angle=-90)
add_text("Period (sec)", 396, 1636, 11)
add_text("fcHi", 118, 1445, 8.5)
add_text("Rw1", 598, 1537, 8)
add_text("Rw4", 598, 1589, 8)

shapes = []
LEG_Y0, LEG_DY = 1477.3, 7.9
for i, (name, dash) in enumerate(zip(LEGEND_NAMES, DASHES)):
    yy = LEG_Y0 + i * LEG_DY
    shapes.append(dict(type="line", xref="paper", yref="paper", x0=fx(344), x1=fx(402), y0=fy(yy), y1=fy(yy),
                       line=dict(color="black", width=1, dash=dash)))
    add_text(name, 413, yy, 9, anchor="left")

shapes.append(dict(type="line", xref="x3", yref="paper", x0=FC_HI_PERIOD, x1=FC_HI_PERIOD,
                   y0=fy(1444), y1=fy(1468), line=dict(color=AXC, width=1.5)))

fig.update_layout(annotations=ann, shapes=shapes)
fig.write_html("out.html")
